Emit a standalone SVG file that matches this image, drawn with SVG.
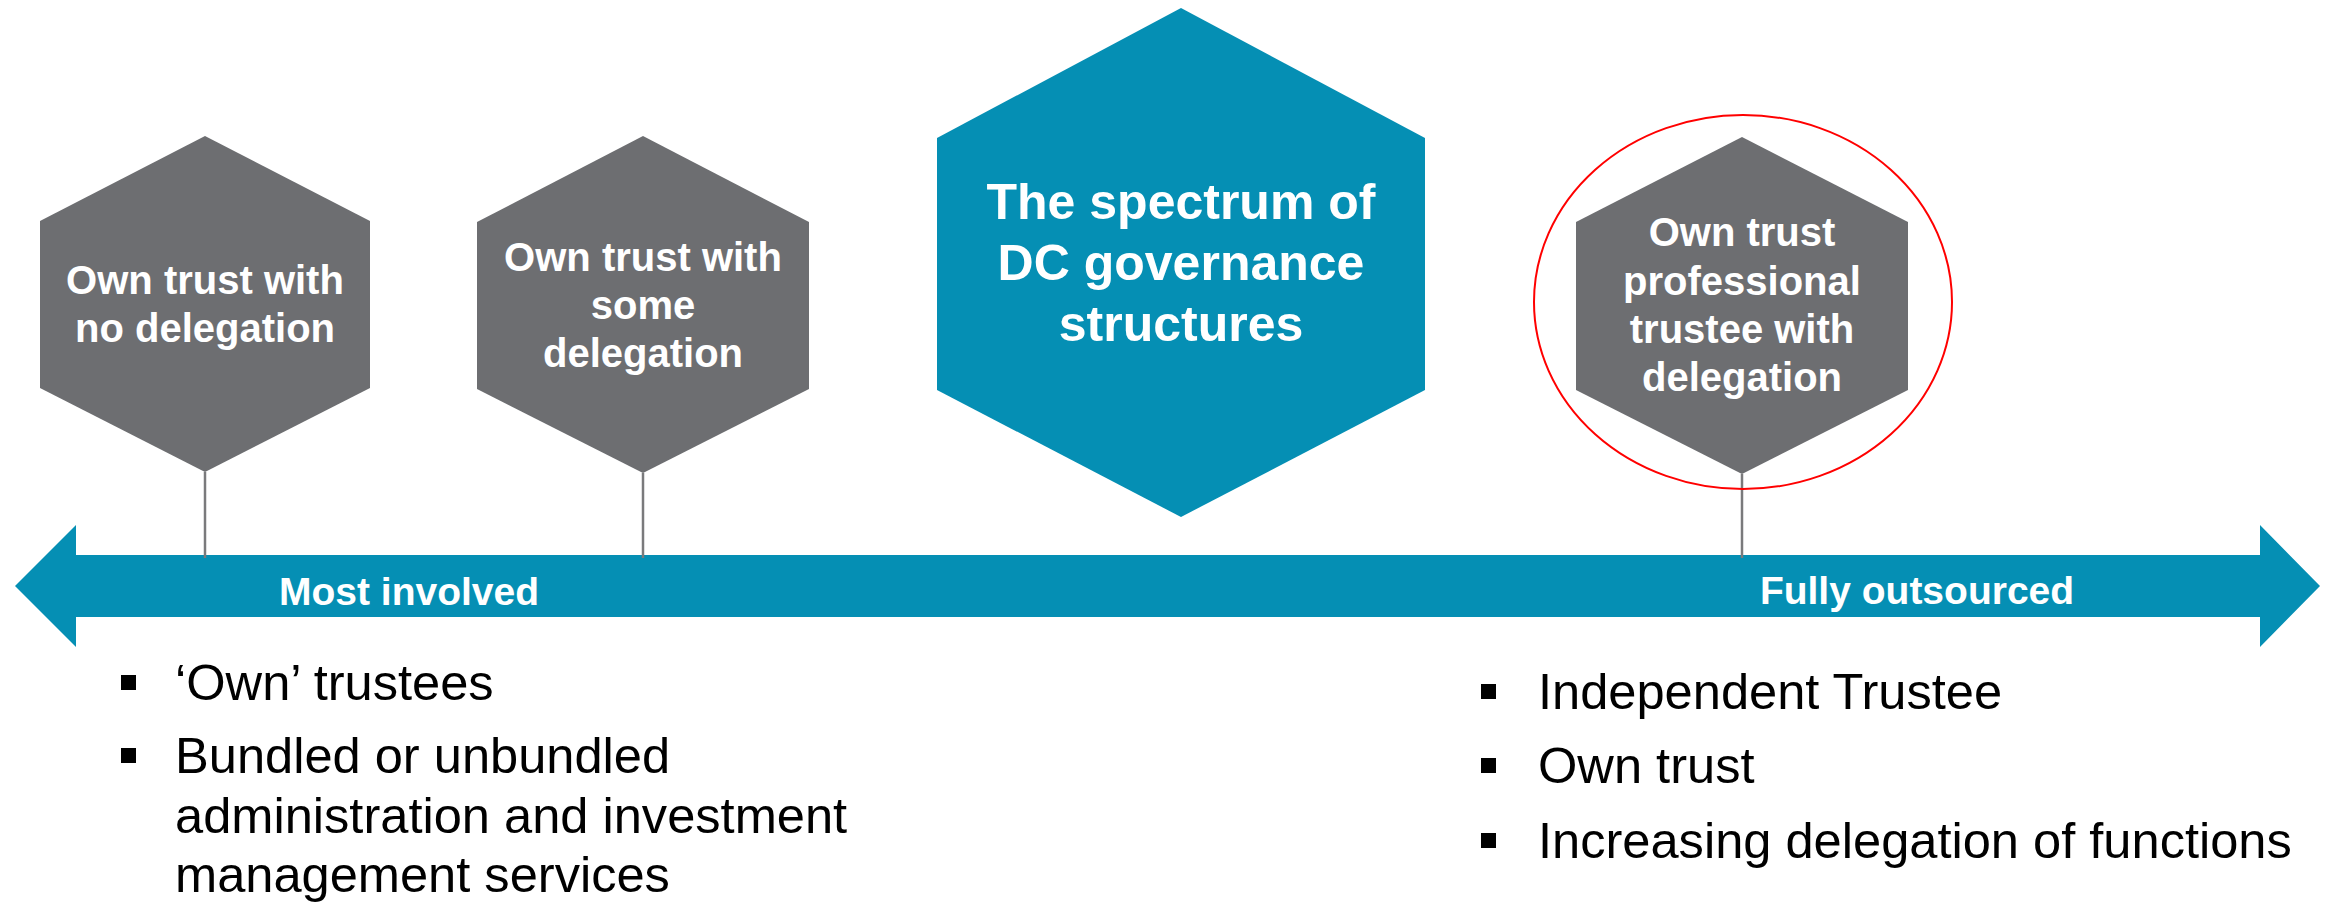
<svg xmlns="http://www.w3.org/2000/svg" width="2328" height="906" viewBox="0 0 2328 906">
<style>
.hexg{fill:#6D6E71}
.hexb{fill:#058FB4}
.ht{font-family:"Liberation Sans",Arial,sans-serif;font-weight:bold;font-size:40px;fill:#FFFFFF;text-anchor:middle}
.ct{font-family:"Liberation Sans",Arial,sans-serif;font-weight:bold;font-size:50px;fill:#FFFFFF;text-anchor:middle}
.at{font-family:"Liberation Sans",Arial,sans-serif;font-weight:bold;font-size:39px;fill:#FFFFFF;text-anchor:middle}
.bt{font-family:"Liberation Sans",Arial,sans-serif;font-size:50.6px;fill:#000000}
.conn{stroke:#7A7A7C;stroke-width:2.5;fill:none}
</style>
<rect width="2328" height="906" fill="#FFFFFF"/>
<g id="spectrum-arrow">
<polygon class="hexb" points="15,586 76,525 76,555 2260,555 2260,525 2320,586 2260,647 2260,617 76,617 76,647"/>
<text class="at" x="409" y="605">Most involved</text>
<text class="at" x="1917" y="604">Fully outsourced</text>
</g>
<g id="connectors">
<line class="conn" x1="205" y1="472" x2="205" y2="558"/>
<line class="conn" x1="643" y1="473" x2="643" y2="558"/>
<line class="conn" x1="1742" y1="474" x2="1742" y2="558"/>
</g>
<g id="node-no-delegation">
<polygon class="hexg" points="205,136 370,221 370,388 205,472 40,388 40,221"/>
<text class="ht" x="205" y="294">Own trust with</text>
<text class="ht" x="205" y="342">no delegation</text>
</g>
<g id="node-some-delegation">
<polygon class="hexg" points="643,136 809,222 809,389 643,473 477,389 477,222"/>
<text class="ht" x="643" y="271">Own trust with</text>
<text class="ht" x="643" y="319">some</text>
<text class="ht" x="643" y="367">delegation</text>
</g>
<g id="node-title">
<polygon class="hexb" points="1181,8 1425,138 1425,390 1181,517 937,390 937,138"/>
<text class="ct" x="1181" y="219">The spectrum of</text>
<text class="ct" x="1181" y="280">DC governance</text>
<text class="ct" x="1181" y="341">structures</text>
</g>
<g id="node-professional">
<polygon class="hexg" points="1742,137 1908,222 1908,390 1742,474 1576,390 1576,222"/>
<text class="ht" x="1742" y="246">Own trust</text>
<text class="ht" x="1742" y="295">professional</text>
<text class="ht" x="1742" y="343">trustee with</text>
<text class="ht" x="1742" y="391">delegation</text>
<ellipse cx="1743" cy="302" rx="209" ry="187" fill="none" stroke="#FF0000" stroke-width="2"/>
</g>
<g id="bullets-left">
<rect x="121" y="675" width="15" height="15" fill="#000000"/>
<text class="bt" x="175" y="700">‘Own’ trustees</text>
<rect x="121" y="748" width="15" height="15" fill="#000000"/>
<text class="bt" x="175" y="773">Bundled or unbundled</text>
<text class="bt" x="175" y="833">administration and investment</text>
<text class="bt" x="175" y="892">management services</text>
</g>
<g id="bullets-right">
<rect x="1481" y="684" width="15" height="15" fill="#000000"/>
<text class="bt" x="1538" y="709">Independent Trustee</text>
<rect x="1481" y="758" width="15" height="15" fill="#000000"/>
<text class="bt" x="1538" y="783">Own trust</text>
<rect x="1481" y="833" width="15" height="15" fill="#000000"/>
<text class="bt" x="1538" y="858">Increasing delegation of functions</text>
</g>
</svg>
